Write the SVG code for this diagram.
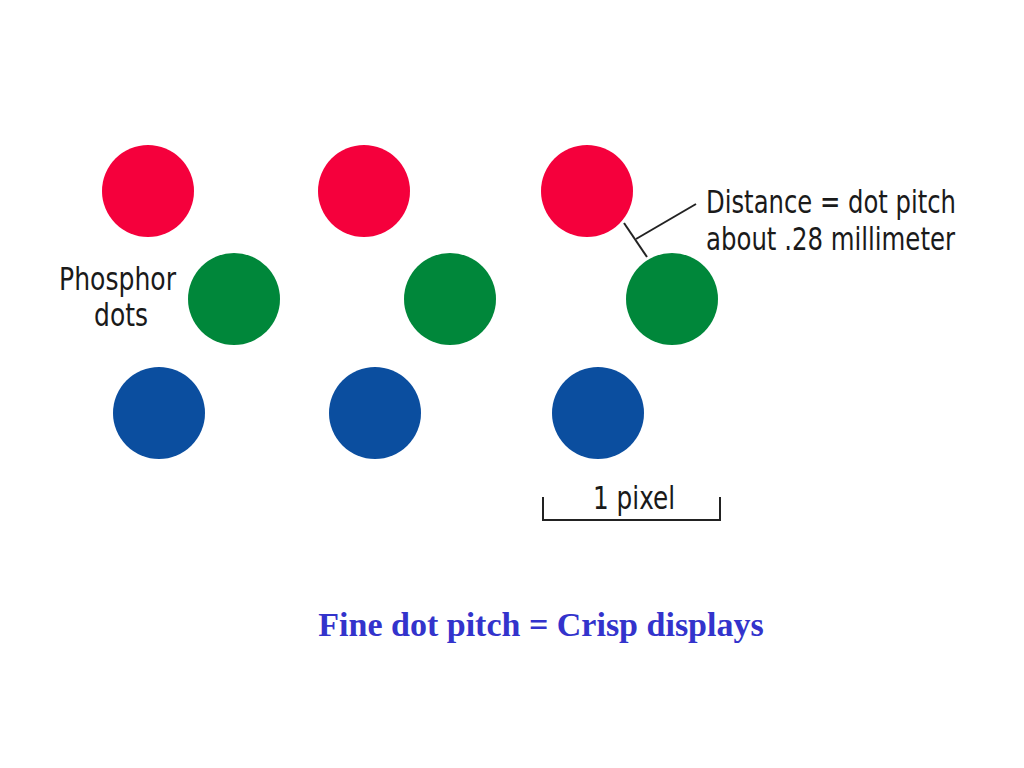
<svg xmlns="http://www.w3.org/2000/svg" width="1024" height="768" viewBox="0 0 1024 768">
<style>
.r{fill:#f5003c}.g{fill:#00873a}.b{fill:#0b4e9f}
.lbl{font-family:"DejaVu Sans Condensed","DejaVu Sans",sans-serif;font-size:32px;fill:#1a1a1a}
.ln{stroke:#222;stroke-width:2;fill:none}
</style>
<rect width="1024" height="768" fill="#fff"/>
<g id="dots">
<circle class="r" cx="148" cy="191" r="46"/>
<circle class="r" cx="364" cy="191" r="46"/>
<circle class="r" cx="587" cy="191" r="46"/>
<circle class="g" cx="234" cy="299" r="46"/>
<circle class="g" cx="450" cy="299" r="46"/>
<circle class="g" cx="672" cy="299" r="46"/>
<circle class="b" cx="159" cy="413" r="46"/>
<circle class="b" cx="375" cy="413" r="46"/>
<circle class="b" cx="598" cy="413" r="46"/>
</g>
<g id="connectors">
<line class="ln" x1="624" y1="223" x2="647" y2="257"/>
<line class="ln" x1="636" y1="239" x2="696" y2="204"/>
<polyline class="ln" points="543,497 543,520 720,520 720,497"/>
</g>
<g id="labels">
<text class="lbl" x="706" y="213" textLength="250" lengthAdjust="spacingAndGlyphs">Distance = dot pitch</text>
<text class="lbl" x="706" y="250" textLength="249" lengthAdjust="spacingAndGlyphs">about .28 millimeter</text>
<text class="lbl" x="59" y="290" textLength="117" lengthAdjust="spacingAndGlyphs">Phosphor</text>
<text class="lbl" x="94" y="326" textLength="54" lengthAdjust="spacingAndGlyphs">dots</text>
<text class="lbl" x="593" y="509" textLength="82" lengthAdjust="spacingAndGlyphs">1 pixel</text>
</g>
<text x="541" y="636" text-anchor="middle" font-family="'Liberation Serif',serif" font-weight="bold" font-size="34" fill="#3333cc">Fine dot pitch = Crisp displays</text>
</svg>
